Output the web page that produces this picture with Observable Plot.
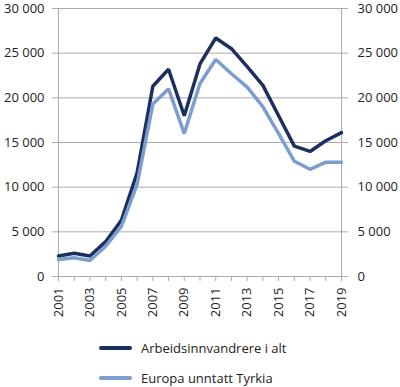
<!DOCTYPE html>
<html>
<head>
<meta charset="utf-8">
<script src="https://cdn.jsdelivr.net/npm/d3@7"></script>
<script src="https://cdn.jsdelivr.net/npm/@observablehq/plot@0.6"></script>
<style>
  html, body { margin: 0; padding: 0; background: #fff; }
  body { width: 400px; height: 387px; overflow: hidden; font-family: "Open Sans", sans-serif; }
  #legend { position: relative; height: 57px; font-size: 13px; color: #222; }
  .item { position: absolute; left: 99px; display: flex; align-items: center; }
  .swatch { width: 33px; height: 4px; border-radius: 2px; margin-right: 9px; }
</style>
</head>
<body>
<div id="chart"></div>
<div id="legend"></div>
<script>
const years = [2001,2002,2003,2004,2005,2006,2007,2008,2009,2010,2011,2012,2013,2014,2015,2016,2017,2018,2019];
const arbeidsinnvandrere = [2300,2600,2300,3900,6300,11600,21300,23200,18000,23800,26700,25500,23500,21400,18000,14600,14000,15200,16100];
const europa = [1900,2100,1800,3400,5600,10300,19300,21000,16000,21600,24300,22700,21200,19000,16000,12900,12000,12800,12800];
const seriesNames = ["Arbeidsinnvandrere i alt", "Europa unntatt Tyrkia"];
const colors = ["#1d2f5e", "#7b9dcf"];
const yTicks = [0,5000,10000,15000,20000,25000,30000];

const data = [];
years.forEach((y, i) => {
  data.push({year: y, value: arbeidsinnvandrere[i], series: seriesNames[0]});
  data.push({year: y, value: europa[i], series: seriesNames[1]});
});

const fmt = d => d3.format(",")(d).replace(/,/g, " ");

const chart = Plot.plot({
  width: 400,
  height: 330,
  marginLeft: 58,
  marginRight: 59,
  marginTop: 8,
  marginBottom: 54,
  style: {fontFamily: "Open Sans, sans-serif", fontSize: "13px", color: "#222"},
  x: {domain: [2001, 2019]},
  y: {domain: [0, 30000]},
  color: {domain: seriesNames, range: colors},
  marks: [
    Plot.gridY(yTicks, {stroke: "#aaa", strokeOpacity: 1}),
    Plot.ruleX([2001, 2019], {stroke: "#aaa"}),
    Plot.axisY(yTicks, {anchor: "left", tickFormat: fmt, tickSize: 6, stroke: "#aaa", tickPadding: 8, label: null}),
    Plot.axisY(yTicks, {anchor: "right", tickFormat: fmt, tickSize: 6, stroke: "#aaa", tickPadding: 10, label: null}),
    Plot.axisX(years, {tickFormat: d => d % 2 === 1 ? String(d) : "", tickRotate: -90, tickSize: 5, stroke: "#aaa", tickPadding: 6, label: null}),
    Plot.line(data, {x: "year", y: "value", z: "series", stroke: "series", strokeWidth: 3.5, strokeLinejoin: "miter"})
  ]
});
document.getElementById("chart").appendChild(chart);

const legend = document.getElementById("legend");
seriesNames.forEach((name, i) => {
  const item = document.createElement("div");
  item.className = "item";
  item.style.top = (i === 0 ? 9 : 39) + "px";
  item.innerHTML = `<span class="swatch" style="background:${colors[i]}"></span><span>${name}</span>`;
  legend.appendChild(item);
});
</script>
</body>
</html>
